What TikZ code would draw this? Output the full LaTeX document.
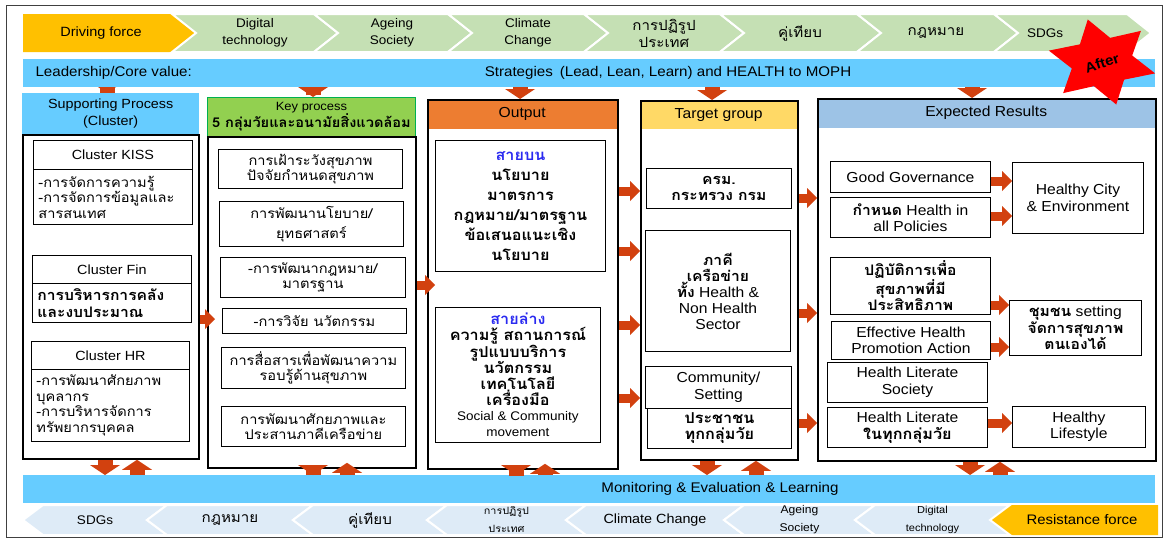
\documentclass[tikz,border=0pt]{standalone}
\usepackage{fontspec}
\setmainfont{Liberation Sans}[FakeStretch=1.08]
\newfontfamily\thai[Script=Thai,FakeStretch=1.08]{Loma}
\usetikzlibrary{arrows.meta,shapes.geometric,backgrounds}

\definecolor{barblue}{HTML}{66CCFF}
\definecolor{chgreen}{HTML}{C5E0B4}
\definecolor{chgrey}{HTML}{DEEBF7}
\definecolor{forceyellow}{HTML}{FFC000}
\definecolor{keygreen}{HTML}{92D050}
\definecolor{keyline}{HTML}{00B050}
\definecolor{outorange}{HTML}{ED7D31}
\definecolor{tgtyellow}{HTML}{FFD966}
\definecolor{resblue}{HTML}{9DC3E6}
\definecolor{arrowred}{HTML}{D2410F}
\definecolor{lineblue}{HTML}{2A2AF0}

\tikzstyle{every box} = [draw, line width=0.9pt, inner sep=0pt, align=center]
\tikzstyle{box} = [rectangle, anchor=north west, every box, font=\fontsize{14.5}{16.5}\selectfont]
\tikzstyle{thaibox} = [box, font=\thai\fontsize{13.5}{15.5}\selectfont]
\tikzstyle{colframe} = [rectangle, anchor=north west, draw, line width=1.8pt, inner sep=0pt]
\tikzstyle{head} = [rectangle, anchor=north west, inner sep=0pt, align=center, font=\fontsize{14.5}{16}\selectfont]
\tikzstyle{band} = [rectangle, anchor=north west, fill=barblue, inner sep=0pt, minimum width=1132pt, minimum height=28pt]
\tikzstyle{link} = [arrowred, line width=9pt, -{Triangle[width=20pt,length=10pt,line width=0pt]}]
\tikzstyle{vlink} = [arrowred, line width=15pt, -{Triangle[width=30pt,length=10pt,line width=0pt]}]

\begin{document}
\begin{tikzpicture}[x=1pt, y=-1pt]
	\useasboundingbox (0,0) rectangle (1167,538);
	% outer frame
	\draw[black!75, line width=1pt] (6,5) rectangle (1162,537);

	% driving forces (top row)
	\fill[forceyellow] (23,14) -- (172,14) -- (196,33) -- (172,52) -- (23,52) -- cycle;
	\node[font=\fontsize{13.4}{16}\selectfont] (drive) at (101,33) {Driving force};
	\foreach \a/\b/\cx/\txt [count=\i] in {172/314/255/{Digital\\technology}, 314/448/392/{Ageing\\Society},
		448/584/528/{Climate\\Change}, 584/720/664/{{\thai\fontsize{14}{17}\selectfont การปฏิรูป}\\{\thai\fontsize{14}{17}\selectfont ประเทศ}},
		720/857/800/{\thai\fontsize{14}{17}\selectfont คู่เทียบ}, 857/994/936/{\thai\fontsize{14}{17}\selectfont กฎหมาย}, 994/1127/1045/SDGs}{
		\filldraw[fill=chgreen, draw=white, line width=2pt] (\a,14) -- (\b,14) -- (\b+24,33) -- (\b,52) -- (\a,52) -- (\a+24,33) -- cycle;
		\node[align=center, font=\fontsize{12.5}{17}\selectfont] (drv\i) at (\cx,33) {\txt};
	}

	% resistance forces (bottom row)
	\fill[forceyellow] (990,520) -- (1010,505) -- (1158,505) -- (1158,535) -- (1010,535) -- cycle;
	\node[font=\fontsize{13.8}{16}\selectfont] (resist) at (1082,520) {Resistance force};
	\foreach \a/\b/\fs/\txt [count=\i] in {23/147/12.5/SDGs, 147/293/14/{\thai กฎหมาย},
		293/427/14/{\thai คู่เทียบ}, 427/566/10/{{\thai การปฏิรูป}\\{\thai ประเทศ}},
		566/724/13.3/Climate Change, 724/855/11.2/{Ageing\\Society}, 855/990/10.2/{Digital\\technology}}{
		\filldraw[fill=chgrey, draw=white, line width=2pt] (\a,520) -- (\a+20,505) -- (\b+20,505) -- (\b,520) -- (\b+20,535) -- (\a+20,535) -- cycle;
		\node[align=center, font=\fontsize{\fs}{18}\selectfont] (rf\i) at ({(\a+20+\b)/2},520) {\txt};
	}

	% strategy and monitoring bands
	\node[band] (lead) at (23,59) {};
	\node[anchor=west, font=\fontsize{14}{16}\selectfont] (core) at (32,73) {Leadership/Core value:};
	\node[font=\fontsize{14}{16}\selectfont] (strat) at (668,73) {Strategies\enspace(Lead, Lean, Learn) and HEALTH to MOPH};
	\node[band] (mon) at (23,475) {};
	\node[font=\fontsize{14}{16}\selectfont] (montxt) at (720,489) {Monitoring \& Evaluation \& Learning};

	% supporting process
	\node[head, fill=barblue, minimum width=177pt, minimum height=41pt, font=\fontsize{13.3}{16.5}\selectfont] (suppH) at (22,93) {Supporting Process\\(Cluster)};
	\node[colframe, minimum width=176pt, minimum height=324pt] (supp) at (22,134) {};
	\node[box, minimum width=159pt, minimum height=29pt, font=\fontsize{13.3}{16}\selectfont] (kiss) at (33,140) {Cluster KISS};
	\node[thaibox, text width=149pt, align=left, inner xsep=5pt, minimum height=55pt] (kissB) at (33,169) {-การจัดการความรู้\\-การจัดการข้อมูลและ\\สารสนเทศ};
	\node[box, minimum width=159pt, minimum height=28pt, font=\fontsize{13.3}{16}\selectfont] (fin) at (32,255) {Cluster Fin};
	\node[thaibox, text width=149pt, align=left, inner xsep=5pt, minimum height=39pt, font=\thai\bfseries\fontsize{14.5}{17}\selectfont] (finB) at (32,283) {การบริหารการคลัง\\และงบประมาณ};
	\node[box, minimum width=158pt, minimum height=28pt, font=\fontsize{13.3}{16}\selectfont] (hr) at (31,341) {Cluster HR};
	\node[thaibox, text width=148pt, align=left, inner xsep=5pt, minimum height=72pt] (hrB) at (31,369) {-การพัฒนาศักยภาพ\\บุคลากร\\-การบริหารจัดการ\\ทรัพยากรบุคคล};

	% key process
	\node[head, fill=keygreen, draw=keyline, line width=1pt, minimum width=208pt, minimum height=39pt, font=\fontsize{12}{17}\selectfont] (keypH) at (207,97) {Key process\\{\thai\bfseries\fontsize{13.5}{17}\selectfont 5 กลุ่มวัยและอนามัยสิ่งแวดล้อม}};
	\node[colframe, minimum width=208pt, minimum height=331pt] (keyp) at (207,136) {};
	\node[thaibox, minimum width=184pt, minimum height=39pt] (kp1) at (218,149) {การเฝ้าระวังสุขภาพ\\ปัจจัยกำหนดสุขภาพ};
	\node[thaibox, minimum width=184pt, minimum height=45pt, font=\thai\fontsize{13.5}{20}\selectfont] (kp2) at (219,201) {การพัฒนานโยบาย/\\ยุทธศาสตร์};
	\node[thaibox, minimum width=185pt, minimum height=40pt] (kp3) at (220,257) {-การพัฒนากฎหมาย/\\มาตรฐาน};
	\node[thaibox, minimum width=184pt, minimum height=25pt] (kp4) at (222,308) {-การวิจัย นวัตกรรม};
	\node[thaibox, minimum width=184pt, minimum height=41pt] (kp5) at (221,347) {การสื่อสารเพื่อพัฒนาความ\\รอบรู้ด้านสุขภาพ};
	\node[thaibox, minimum width=184pt, minimum height=40pt] (kp6) at (221,406) {การพัฒนาศักยภาพและ\\ประสานภาคีเครือข่าย};

	% output
	\node[head, fill=outorange, minimum width=190pt, minimum height=30pt] (outpH) at (427,99) {Output};
	\node[colframe, minimum width=190pt, minimum height=369pt] (outp) at (427,99) {};
	\node[thaibox, minimum width=170pt, minimum height=131pt, font=\thai\bfseries\fontsize{15}{20}\selectfont] (upper) at (435,140) {{\color{lineblue}สายบน}\\นโยบาย\\มาตรการ\\กฎหมาย/มาตรฐาน\\ข้อเสนอแนะเชิง\\นโยบาย};
	\node[thaibox, minimum width=165pt, minimum height=135pt, font=\thai\bfseries\fontsize{15}{15.8}\selectfont] (lower) at (435,307) {{\color{lineblue}สายล่าง}\\ความรู้ สถานการณ์\\รูปแบบบริการ\\นวัตกรรม\\เทคโนโลยี\\เครื่องมือ\\{\rmfamily\mdseries\fontsize{12.5}{15.8}\selectfont Social \& Community}\\{\rmfamily\mdseries\fontsize{12.5}{15.8}\selectfont movement}};

	% target group
	\node[head, fill=tgtyellow, minimum width=157pt, minimum height=29pt] (tgtH) at (640,100) {Target group};
	\node[colframe, minimum width=157pt, minimum height=359pt] (tgt) at (640,100) {};
	\node[thaibox, minimum width=145pt, minimum height=40pt, font=\thai\bfseries\fontsize{14.5}{16}\selectfont] (cabinet) at (646,168) {ครม.\\กระทรวง กรม};
	\node[box, minimum width=145pt, minimum height=121pt, font=\fontsize{14.5}{16}\selectfont] (partner) at (645,230) {{\thai\bfseries ภาคี}\\{\thai\bfseries เครือข่าย}\\{\thai\bfseries ทั้ง} Health \&\\Non Health\\Sector};
	\node[box, minimum width=146pt, minimum height=42pt] (setting) at (645,366) {Community/\\Setting};
	\node[thaibox, minimum width=144pt, minimum height=40pt, font=\thai\bfseries\fontsize{15}{16}\selectfont] (people) at (647,408) {ประชาชน\\ทุกกลุ่มวัย};

	% expected results
	\node[head, fill=resblue, minimum width=338pt, minimum height=30pt] (resH) at (817,98) {Expected Results};
	\node[colframe, minimum width=338pt, minimum height=362pt] (res) at (817,98) {};
	\node[box, minimum width=160pt, minimum height=31pt] (gg) at (830,161) {Good Governance};
	\node[box, minimum width=160pt, minimum height=40pt] (hiap) at (830,197) {{\thai\bfseries กำหนด} Health in\\all Policies};
	\node[box, minimum width=131pt, minimum height=71pt] (hcity) at (1012,162) {Healthy City\\\& Environment};
	\node[thaibox, minimum width=160pt, minimum height=57pt, font=\thai\bfseries\fontsize{14.5}{16}\selectfont] (action) at (830,257) {ปฏิบัติการเพื่อ\\สุขภาพที่มี\\ประสิทธิภาพ};
	\node[box, minimum width=159pt, minimum height=38pt] (ehpa) at (831,321) {Effective Health\\Promotion Action};
	\node[box, minimum width=132pt, minimum height=55pt] (selfcare) at (1009,300) {{\thai\bfseries ชุมชน} setting\\{\thai\bfseries จัดการสุขภาพ}\\{\thai\bfseries ตนเองได้}};
	\node[box, minimum width=160pt, minimum height=40pt] (hls) at (827,362) {Health Literate\\Society};
	\node[box, minimum width=160pt, minimum height=40pt] (hlall) at (827,407) {Health Literate\\{\thai\bfseries\fontsize{15}{16}\selectfont ในทุกกลุ่มวัย}};
	\node[box, minimum width=133pt, minimum height=41pt] (life) at (1012,406) {Healthy\\Lifestyle};

	% arrows from the strategy band
	\begin{scope}[on background layer]
		\foreach \n/\x in {suppH/107, keypH/313, outpH/520, tgtH/712, resH/972}
			\draw[vlink, shorten <=-8pt] (lead.south -| \x,0) -- (\n.north -| \x,0);
	\end{scope}

	% flow between columns
	\draw[link, shorten >=-8pt] (supp.east |- 0,319) -- (keyp.west |- 0,319);
	\draw[link, shorten >=-8pt] (keyp.east |- 0,285) -- (outp.west |- 0,285);
	\foreach \y in {191, 251, 325, 398}
		\draw[link] (outp.east |- 0,\y) -- (tgt.west |- 0,\y);
	\foreach \y in {198, 313, 423}
		\draw[link] (tgt.east |- 0,\y) -- (res.west |- 0,\y);
	\draw[link] (gg.east |- 0,181) -- (hcity.west |- 0,181);
	\draw[link] (hiap.east |- 0,216) -- (hcity.west |- 0,216);
	\draw[link] (action.east |- 0,305) -- (selfcare.west |- 0,305);
	\draw[link] (ehpa.east |- 0,347) -- (selfcare.west |- 0,347);
	\draw[link] (hlall.east |- 0,423) -- (life.west |- 0,423);

	% feedback with monitoring band
	\foreach \c/\d/\u/\s in {supp/105/137/0, keyp/313/347/-6, outp/516/545/-6, tgt/707/756/0, res/970/1000/0}{
		\draw[vlink, shorten <=\s pt] (\c.south -| \d,0) -- (mon.north -| \d,0);
		\draw[vlink, shorten >=\s pt] (mon.north -| \u,0) -- (\c.south -| \u,0);
	}

	% after star
	\fill[red] ({1102+1.25*44*cos(-15)},{62-44*sin(-15)})
		\foreach \k in {1,...,11}{
			-- ({1102+1.25*ifthenelse(mod(\k,2)==0,44,25)*cos(-15+30*\k)},{62-ifthenelse(mod(\k,2)==0,44,25)*sin(-15+30*\k)})
		} -- cycle;
	\node[rotate=18, font=\bfseries\fontsize{14}{16}\selectfont] (aftertxt) at (1102,63) {After};
\end{tikzpicture}
\end{document}
